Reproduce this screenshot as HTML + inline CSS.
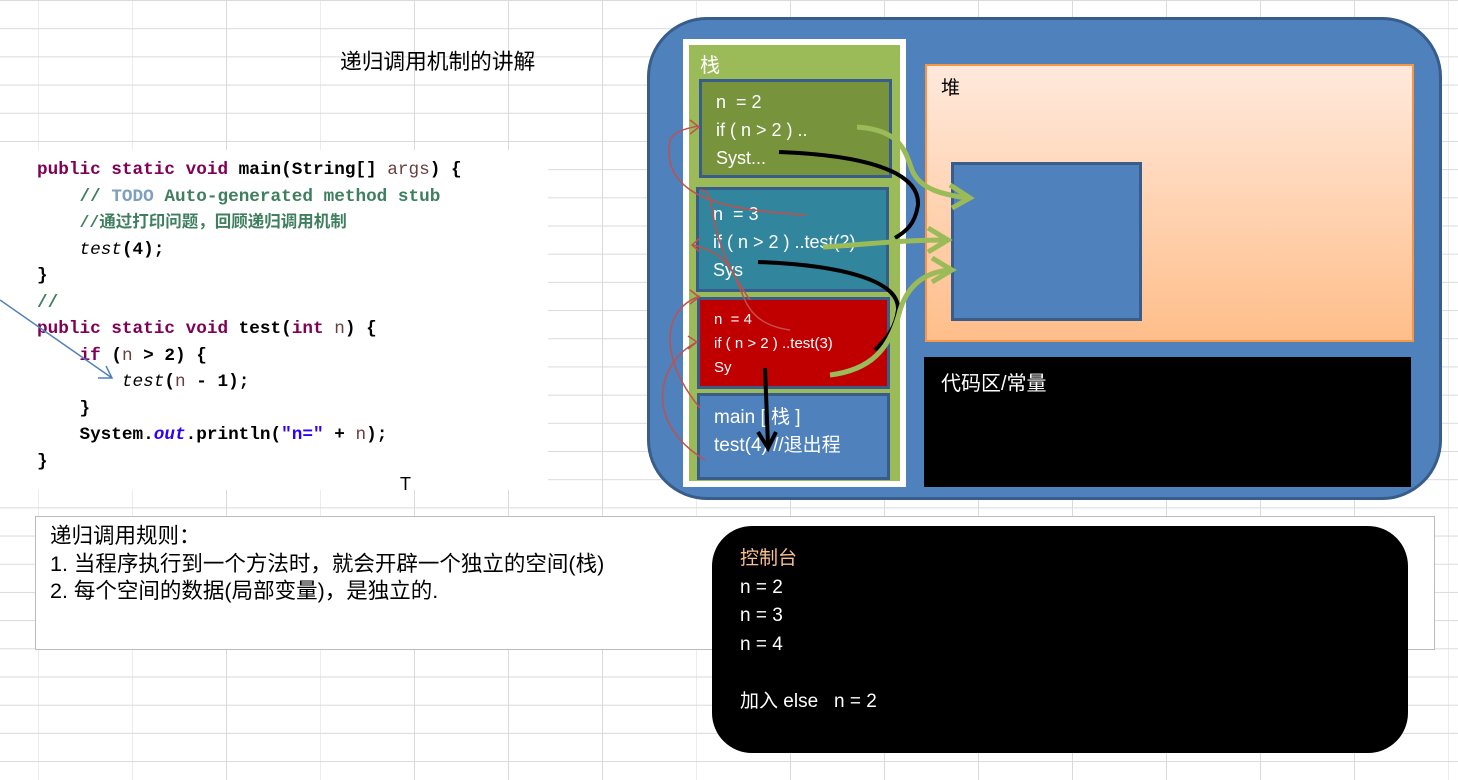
<!DOCTYPE html>
<html><head><meta charset="utf-8"><style>
body{margin:0;width:1458px;height:780px;overflow:hidden;position:relative;font-family:"Liberation Sans","Noto Sans CJK SC",sans-serif;
background-color:#fff;
background-image:linear-gradient(#dadada 1px,transparent 1px),linear-gradient(90deg,#dadada 1px,transparent 1px);
background-size:94px 28.2px;background-position:38px 0px;}
.a{position:absolute;box-sizing:border-box}
.code{font-family:"Liberation Mono","Noto Sans CJK SC",monospace;font-size:17.7px;line-height:26.5px;font-weight:bold;color:#000;white-space:pre}
.k{color:#7f0055}.c{color:#3f7f5f}.t{color:#7f9fbf}.v{color:#6a3e3e;font-weight:normal}.s{color:#2a00ff}
.w{color:#fff}
</style></head><body>
<div class="a" style="left:340px;top:45px;font-size:21.7px;">递归调用机制的讲解</div>
<div class="a" style="left:0;top:150px;width:548px;height:340px;background:#fff"></div>
<div class="a code" style="left:37px;top:157px"><span class="k">public static void</span> main(String[] <span class="v">args</span>) {
    <span class="c">// <span class="t">TODO</span> Auto-generated method stub</span>
    <span class="c" style="font-size:16.5px">//通过打印问题，回顾递归调用机制</span>
    <i style="font-weight:normal">test</i>(4);
}
<span class="c">//</span>
<span class="k">public static void</span> test(<span class="k">int</span> <span class="v">n</span>) {
    <span class="k">if</span> (<span class="v">n</span> &gt; 2) {
        <i style="font-weight:normal">test</i>(<span class="v">n</span> - 1);
    }
    System.<i class="s">out</i>.println(<span class="s">"n="</span> + <span class="v">n</span>);
}</div>
<div class="a" style="left:400px;top:474px;font-size:18px">T</div>

<div class="a" style="left:647px;top:17px;width:795px;height:483px;background:#4f81bd;border:3px solid #385d8a;border-radius:60px"></div>
<div class="a" style="left:683px;top:39px;width:223px;height:448px;background:#fff"></div>
<div class="a" style="left:689px;top:45px;width:211px;height:436px;background:#9bbb59"></div>
<div class="a w" style="left:700px;top:49px;font-size:20px">栈</div>
<div class="a w" style="left:699px;top:79px;width:193px;height:99px;background:#77933c;border:3px solid #385d8a;font-size:18px;line-height:28px;padding:6px 0 0 14px">n &nbsp;= 2<br>if ( n &gt; 2 ) ..<br>Syst...</div>
<div class="a w" style="left:696px;top:187px;width:193px;height:105px;background:#31859c;border:3px solid #385d8a;font-size:18px;line-height:28px;padding:10px 0 0 14px">n &nbsp;= 3<br>if ( n &gt; 2 ) ..test(2)<br>Sys</div>
<div class="a w" style="left:697px;top:297px;width:193px;height:92px;background:#c00000;border:3px solid #385d8a;font-size:15px;line-height:24px;padding:8px 0 0 14px">n &nbsp;= 4<br>if ( n &gt; 2 ) ..test(3)<br>Sy</div>
<div class="a w" style="left:697px;top:393px;width:193px;height:87px;background:#4f81bd;border:3px solid #385d8a;font-size:19px;line-height:28px;padding:8px 0 0 14px">main [ 栈 ]<br>test(4) //退出程</div>

<div class="a" style="left:925px;top:64px;width:489px;height:278px;background:linear-gradient(#ffe9dc,#ffbe8a);border:2px solid #f79646"></div>
<div class="a" style="left:941px;top:73px;font-size:19px">堆</div>
<div class="a" style="left:951px;top:162px;width:191px;height:159px;background:#4f81bd;border:3px solid #385d8a"></div>
<div class="a w" style="left:924px;top:357px;width:487px;height:130px;background:#000;font-size:20px;padding:10px 0 0 17px">代码区/常量</div>

<svg class="a" style="left:0;top:0" width="1458" height="780">
<g fill="none" stroke="#c0504d" stroke-width="1.5">
<path d="M700 408 C660 360 660 310 700 296"/><path d="M690 290 L699 297 L690 304"/>
<path d="M750 300 C700 230 720 190 700 190"/><path d="M790 330 C720 320 760 260 693 245"/><path d="M700 238 L692 245 L700 252"/>
<path d="M705 460 C640 420 660 360 697 342"/><path d="M688 336 L697 342 L688 349"/>
<path d="M806 215 C730 210 660 200 670 140 C675 130 690 128 698 126"/><path d="M690 120 L699 127 L690 134"/>
</g>
<path d="M0 300 L112 378 M98 378 L112 378 L106 366" fill="none" stroke="#4f81bd" stroke-width="1.5"/>
<g fill="none" stroke="#000" stroke-width="4">
<path d="M779 152 C860 155 920 170 918 205 C915 225 905 232 895 238"/>
<path d="M758 262 C840 265 900 280 898 310 C895 330 885 340 875 350"/>
<path d="M765 368 L768 445"/><path d="M758 432 L768 448 L776 432"/>
</g>
<g fill="none" stroke="#9bbb59" stroke-width="5">
<path d="M857 127 C900 130 905 150 912 170 C920 190 945 195 968 198"/><path d="M950 185 L970 198 L952 208"/>
<path d="M823 247 C860 245 900 240 945 240"/><path d="M928 228 L948 240 L928 252"/>
<path d="M830 375 C870 370 890 350 900 310 C908 285 925 272 950 270"/><path d="M932 258 L952 270 L932 282"/>
</g>
</svg>

<div class="a" style="left:35px;top:516px;width:1400px;height:134px;background:#fff;border:1px solid #bbb;font-size:21.5px;line-height:27.5px;padding:6px 0 0 14px">递归调用规则：<br>1. 当程序执行到一个方法时，就会开辟一个独立的空间(栈)<br>2. 每个空间的数据(局部变量)，是独立的.</div>
<div class="a w" style="left:712px;top:526px;width:696px;height:227px;background:#000;border-radius:40px;font-size:19px;line-height:28.5px;padding:19px 0 0 28px"><span style="color:#fac090">控制台</span><br>n = 2<br>n = 3<br>n = 4<br><br>加入 else &nbsp; n = 2</div>
</body></html>
